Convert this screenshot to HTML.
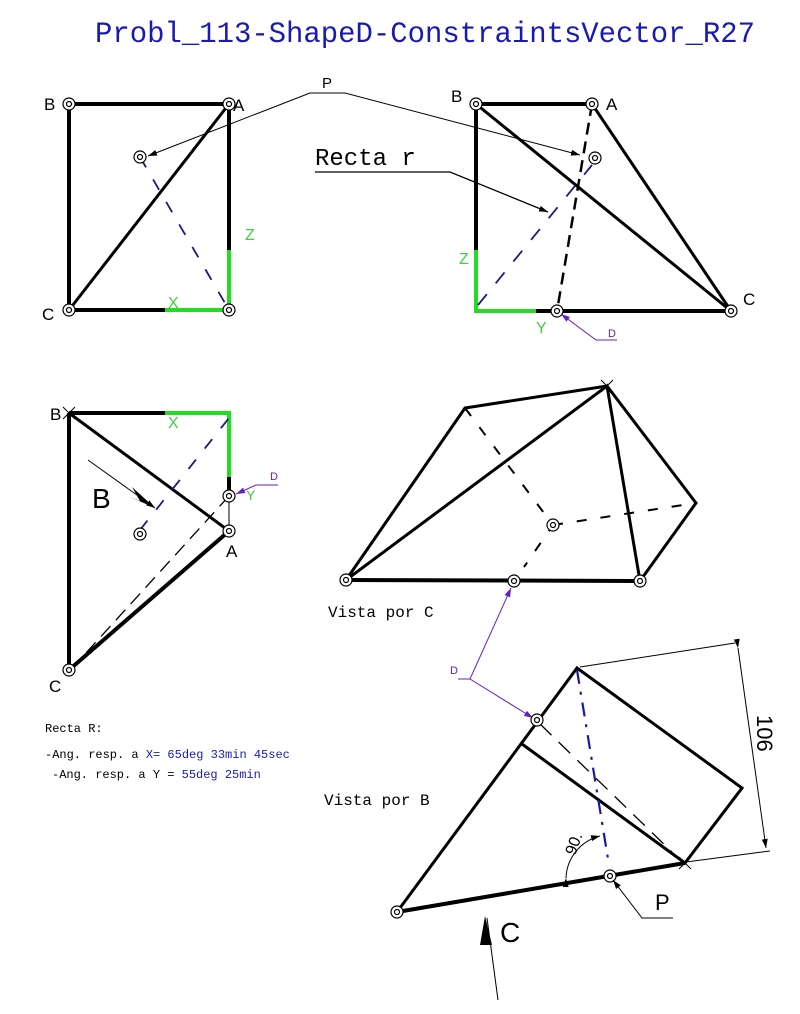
<!DOCTYPE html>
<html><head><meta charset="utf-8"><style>
html,body{margin:0;padding:0;background:#fff}
svg{display:block}
text{font-family:"Liberation Sans",sans-serif}
.m{font-family:"Liberation Mono",monospace}
</style></head><body>
<svg width="800" height="1014" viewBox="0 0 800 1014" xmlns="http://www.w3.org/2000/svg">
<defs>
<marker id="ar" markerWidth="10" markerHeight="8" refX="9" refY="4" orient="auto" markerUnits="userSpaceOnUse"><path d="M0,1 L9,4 L0,7z" fill="#000"/></marker>
<marker id="arp" markerWidth="10" markerHeight="8" refX="9" refY="4" orient="auto" markerUnits="userSpaceOnUse"><path d="M0,1 L9,4 L0,7z" fill="#6020c0"/></marker>
<g id="pt"><circle r="6" fill="#fff" stroke="#000" stroke-width="1.2"/><circle r="2.5" fill="none" stroke="#000" stroke-width="1.2"/></g>
</defs>
<text x="95" y="42" class="m" font-size="30" fill="#1a1ab0" textLength="660" lengthAdjust="spacingAndGlyphs">Probl_113-ShapeD-ConstraintsVector_R27</text>

<!-- View 1 -->
<g stroke="#000" stroke-width="4" fill="none">
<path d="M69,104 L229,104 M69,104 L69,310 M69,310 L165,310 M229,104 L229,250"/>
</g>
<path d="M229,104 L69,310" stroke="#000" stroke-width="3"/>
<g stroke="#22dd22" stroke-width="4" fill="none"><path d="M165,310 L229,310 M229,250 L229,310"/></g>
<path d="M140,157 L229,310" stroke="#1a1a80" stroke-width="1.8" stroke-dasharray="12,14"/>
<path d="M310,93 L345,93 L580,155" fill="none" stroke="#000" stroke-width="1" marker-end="url(#ar)"/>
<path d="M310,93 L148,156" fill="none" stroke="#000" stroke-width="1" marker-end="url(#ar)"/>
<use href="#pt" x="69" y="104"/><use href="#pt" x="229" y="104"/><use href="#pt" x="69" y="310"/><use href="#pt" x="229" y="310"/><use href="#pt" x="140" y="157"/>
<text x="44" y="110" font-size="17">B</text><text x="233" y="111" font-size="17">A</text><text x="42" y="320" font-size="17">C</text>
<text x="322" y="88" font-size="15">P</text>
<text x="245" y="240" font-size="16" fill="#44cc44">Z</text><text x="168" y="308" font-size="16" fill="#44cc44">X</text>

<!-- View 2 -->
<g stroke="#000" stroke-width="4" fill="none"><path d="M476,104 L592,104 M476,104 L476,250 M536,311 L731,311"/></g>
<path d="M592,104 L731,311 M476,104 L731,311" stroke="#000" stroke-width="3"/>
<g stroke="#22dd22" stroke-width="4" fill="none"><path d="M476,250 L476,311 L536,311"/></g>
<path d="M592,104 L557,311" stroke="#000" stroke-width="2.5" stroke-dasharray="12,7"/>
<path d="M478,305 L592,165" stroke="#1a1a80" stroke-width="1.8" stroke-dasharray="14,14"/>
<text x="315" y="165" class="m" font-size="24">Recta r</text>
<path d="M315,172 L450,172 L548,212" fill="none" stroke="#000" stroke-width="1.3" marker-end="url(#ar)"/>
<use href="#pt" x="476" y="104"/><use href="#pt" x="592" y="104"/><use href="#pt" x="731" y="311"/><use href="#pt" x="557" y="311"/><use href="#pt" x="595" y="158"/>
<text x="451" y="102" font-size="17">B</text><text x="606" y="110" font-size="17">A</text><text x="743" y="305" font-size="17">C</text>
<text x="459" y="264" font-size="16" fill="#44cc44">Z</text><text x="536" y="333" font-size="16" fill="#44cc44">Y</text>
<path d="M617,340 L596,340 L561,314" fill="none" stroke="#6020c0" stroke-width="1" marker-end="url(#arp)"/>
<text x="608" y="337" font-size="11" fill="#6020c0">D</text>

<!-- View 3 -->
<g stroke="#000" stroke-width="4" fill="none"><path d="M69,413 L165,413 M69,413 L69,670 M229,477 L229,496 M229,531 L69,670"/></g>
<path d="M69,413 L229,531" stroke="#000" stroke-width="3"/>
<g stroke="#22dd22" stroke-width="4" fill="none"><path d="M165,413 L229,413 L229,477"/></g>
<path d="M229,496 L75,665" stroke="#000" stroke-width="1.3" stroke-dasharray="14,8"/>
<path d="M229,496 L229,531" stroke="#000" stroke-width="1"/>
<path d="M140,530 L229,418" stroke="#1a1a80" stroke-width="1.8" stroke-dasharray="12,14"/>
<path d="M88,460 L155,508" stroke="#000" stroke-width="1" marker-end="url(#ar)"/>
<path d="M155,508 L132,487 L140,501 L128,496z" fill="#000"/>
<text x="92" y="508" font-size="28">B</text>
<use href="#pt" x="229" y="496"/><use href="#pt" x="229" y="531"/><use href="#pt" x="69" y="670"/><use href="#pt" x="140" y="534"/>
<path d="M63,407 L75,419 M75,407 L63,419" stroke="#000" stroke-width="1"/>
<text x="50" y="420" font-size="17">B</text><text x="226" y="557" font-size="17">A</text><text x="49" y="692" font-size="17">C</text>
<text x="168" y="428" font-size="16" fill="#44cc44">X</text><text x="246" y="500" font-size="14" fill="#44cc44">Y</text>
<path d="M278,485 L256,485 L236,494" fill="none" stroke="#6020c0" stroke-width="1" marker-end="url(#arp)"/>
<text x="270" y="480" font-size="11" fill="#6020c0">D</text>

<text x="45" y="732" class="m" font-size="12">Recta R:</text>
<text x="45" y="758" class="m" font-size="12">-Ang. resp. a <tspan fill="#1a1ab0">X= 65deg 33min 45sec</tspan></text>
<text x="52" y="778" class="m" font-size="12">-Ang. resp. a Y = <tspan fill="#1a1ab0">55deg 25min</tspan></text>

<!-- Vista por C -->
<path d="M346,580 L465,408 L607,386 L696,503 L640,581 Z M346,580 L607,386 L640,581" fill="none" stroke="#000" stroke-width="3"/>
<path d="M346,580 L640,581" stroke="#000" stroke-width="4"/>
<path d="M465,408 L553,525 L524,567 M553,525 L696,503" fill="none" stroke="#000" stroke-width="2" stroke-dasharray="10,14"/>
<path d="M601,380 L613,392 M613,380 L601,392" stroke="#000" stroke-width="1"/>
<use href="#pt" x="346" y="580"/><use href="#pt" x="514" y="581"/><use href="#pt" x="640" y="581"/><use href="#pt" x="553" y="525"/>
<text x="328" y="617" class="m" font-size="16">Vista por C</text>
<path d="M458,679 L470,679 L511,588" fill="none" stroke="#6020c0" stroke-width="1" marker-end="url(#arp)"/>
<path d="M470,679 L533,718" fill="none" stroke="#6020c0" stroke-width="1" marker-end="url(#arp)"/>
<text x="450" y="674" font-size="11" fill="#6020c0">D</text>

<!-- Vista por B -->
<path d="M397,912 L577,668 L742,788 L685,863 Z M522,744 L685,863" fill="none" stroke="#000" stroke-width="3"/>
<path d="M397,912 L685,863" stroke="#000" stroke-width="4"/>
<path d="M540,724 L672,852" stroke="#000" stroke-width="1.3" stroke-dasharray="16,10"/>
<path d="M577,670 L609,865" stroke="#1a1aa0" stroke-width="2.2" stroke-dasharray="14,8,3,8"/>
<path d="M580,667 L735,643 M686,862 L770,851" stroke="#000" stroke-width="1"/>
<path d="M738,648 L766,848" stroke="#000" stroke-width="1" marker-start="url(#ar)" marker-end="url(#ar)"/>
<text transform="translate(757,715) rotate(90)" font-size="22">106</text>
<path d="M566,878 A45,45 0 0 1 600,836" fill="none" stroke="#000" stroke-width="1" marker-start="url(#ar)" marker-end="url(#ar)"/>
<text transform="translate(575,856) rotate(-70)" font-size="16">90.</text>
<use href="#pt" x="397" y="912"/><use href="#pt" x="610" y="876"/><use href="#pt" x="537" y="720"/>
<path d="M679,857 L691,869 M691,857 L679,869" stroke="#000" stroke-width="1"/>
<text x="324" y="805" class="m" font-size="16">Vista por B</text>
<path d="M673,918 L642,918 L613,880" fill="none" stroke="#000" stroke-width="1" marker-end="url(#ar)"/>
<text x="655" y="910" font-size="22">P</text>
<path d="M498,1000 L487,918" stroke="#000" stroke-width="1"/>
<path d="M485,916 L492,945 L480,945z" fill="#000"/>
<text x="500" y="942" font-size="28">C</text>
</svg>
</body></html>
